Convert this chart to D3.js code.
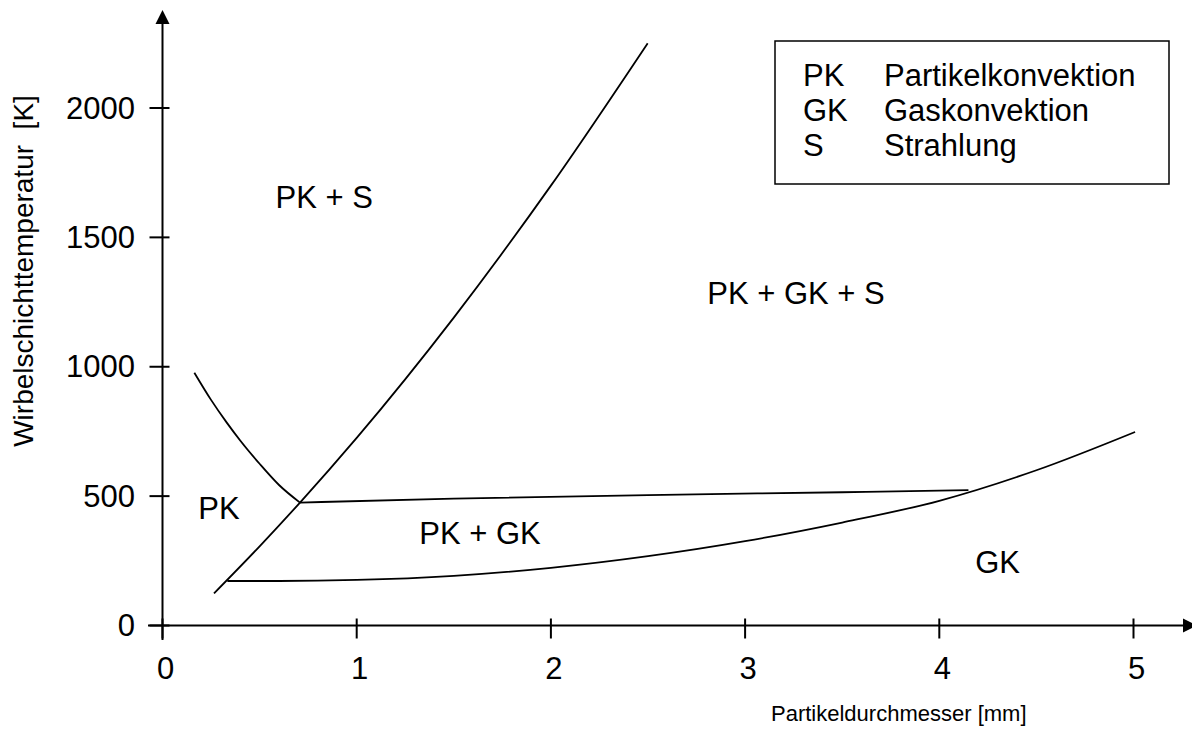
<!DOCTYPE html>
<html>
<head>
<meta charset="utf-8">
<script src="https://cdn.jsdelivr.net/npm/d3@7"></script>
<style>
  html, body { margin: 0; padding: 0; background: #fff; }
  svg { display: block; font-family: "Liberation Sans", Arial, Helvetica, sans-serif; }
</style>
</head>
<body>
<svg id="chart" width="1192" height="733"></svg>
<script>
// ---- data ----
const xTicks = [0, 1, 2, 3, 4, 5];
const yTicks = [0, 500, 1000, 1500, 2000];
const xTitle = "Partikeldurchmesser [mm]";
const yTitle = "Wirbelschichttemperatur  [K]";

// boundary curves (Partikeldurchmesser mm, Temperatur K)
const lineRising  = [[0.265,124],[0.5,306],[0.708,475],[1.0,725],[1.5,1190],[2.0,1700],[2.498,2250]];
const lineFalling = [[0.164,977],[0.25,872],[0.33,785],[0.40,715],[0.50,625],[0.60,543],[0.708,475]];
const lineMiddle  = [[0.708,475],[1.5,490],[2.5,504],[3.5,515],[4.15,523]];
const lineLower   = [[0.334,172],[0.6,172],[1.0,176],[1.5,192],[2.0,223],[2.5,268],[3.0,326],[3.5,398],[4.0,482],[4.5,600],[5.008,748]];

// region labels
const regionTexts = ["PK + S", "PK + GK + S", "PK", "PK + GK", "GK"];
const regionD     = [0.833, 3.262, 0.291, 1.635, 4.30];
const regionT     = [1656, 1285, 452, 357, 245];

// legend
const legendAbbr = ["PK", "GK", "S"];
const legendName = ["Partikelkonvektion", "Gaskonvektion", "Strahlung"];

// ---- drawing ----
const svg = d3.select("#chart");
const x = d3.scaleLinear().domain([0, 5]).range([162.5, 1133.5]);
const y = d3.scaleLinear().domain([0, 2000]).range([625.5, 108]);

const ink = "#000";
const fontBig = 31;

// Y axis line + arrow
svg.append("line")
  .attr("x1", x(0)).attr("x2", x(0))
  .attr("y1", 640).attr("y2", 22)
  .attr("stroke", ink).attr("stroke-width", 2);
svg.append("path")
  .attr("d", `M${x(0)},10 L${x(0)-7},24 L${x(0)+7},24 Z`)
  .attr("fill", ink);

// X axis line + arrow
svg.append("line")
  .attr("x1", 148).attr("x2", 1184)
  .attr("y1", y(0)).attr("y2", y(0))
  .attr("stroke", ink).attr("stroke-width", 2);
svg.append("path")
  .attr("d", `M1197,${y(0)} L1183,${y(0)-7} L1183,${y(0)+7} Z`)
  .attr("fill", ink);

// Y ticks
svg.append("g").selectAll("line").data(yTicks).join("line")
  .attr("x1", x(0) - 13).attr("x2", x(0) + 7)
  .attr("y1", d => y(d)).attr("y2", d => y(d))
  .attr("stroke", ink).attr("stroke-width", 2);
svg.append("g").selectAll("text").data(yTicks).join("text")
  .attr("x", 135).attr("y", d => y(d))
  .attr("text-anchor", "end").attr("dominant-baseline", "central")
  .attr("font-size", fontBig).attr("fill", ink)
  .text(d => d);

// X ticks
svg.append("g").selectAll("line").data(xTicks).join("line")
  .attr("x1", d => x(d)).attr("x2", d => x(d))
  .attr("y1", y(0) - 7).attr("y2", y(0) + 13)
  .attr("stroke", ink).attr("stroke-width", 2);
svg.append("g").selectAll("text").data(xTicks).join("text")
  .attr("x", d => x(d) + 3).attr("y", 679)
  .attr("text-anchor", "middle")
  .attr("font-size", fontBig).attr("fill", ink)
  .text(d => d);

// axis titles
svg.append("text")
  .attr("x", 771).attr("y", 721)
  .attr("font-size", 22).attr("fill", ink)
  .text(xTitle);
svg.append("text")
  .attr("transform", "translate(23,271) rotate(-90)")
  .attr("text-anchor", "middle").attr("dominant-baseline", "central")
  .attr("font-size", 28).attr("fill", ink)
  .attr("xml:space", "preserve")
  .style("white-space", "pre")
  .text(yTitle);

// curves
const line = d3.line().x(d => x(d[0])).y(d => y(d[1])).curve(d3.curveMonotoneX);
[lineRising, lineFalling, lineMiddle, lineLower].forEach(arr => {
  svg.append("path").datum(arr)
    .attr("d", line)
    .attr("fill", "none").attr("stroke", ink).attr("stroke-width", 1.8);
});

// region labels
svg.append("g").selectAll("text").data(regionTexts).join("text")
  .attr("x", (d, i) => x(regionD[i]))
  .attr("y", (d, i) => y(regionT[i]))
  .attr("text-anchor", "middle").attr("dominant-baseline", "central")
  .attr("font-size", fontBig).attr("fill", ink)
  .text(d => d);

// legend
const lg = svg.append("g");
lg.append("rect")
  .attr("x", 775).attr("y", 41).attr("width", 394).attr("height", 143)
  .attr("fill", "#fff").attr("stroke", ink).attr("stroke-width", 1.5);
lg.selectAll("text.abbr").data(legendAbbr).join("text").attr("class", "abbr")
  .attr("x", 803).attr("y", (d, i) => 86 + i * 35)
  .attr("font-size", fontBig).attr("fill", ink).text(d => d);
lg.selectAll("text.name").data(legendName).join("text").attr("class", "name")
  .attr("x", 884).attr("y", (d, i) => 86 + i * 35)
  .attr("font-size", fontBig).attr("fill", ink).text(d => d);
</script>
</body>
</html>
